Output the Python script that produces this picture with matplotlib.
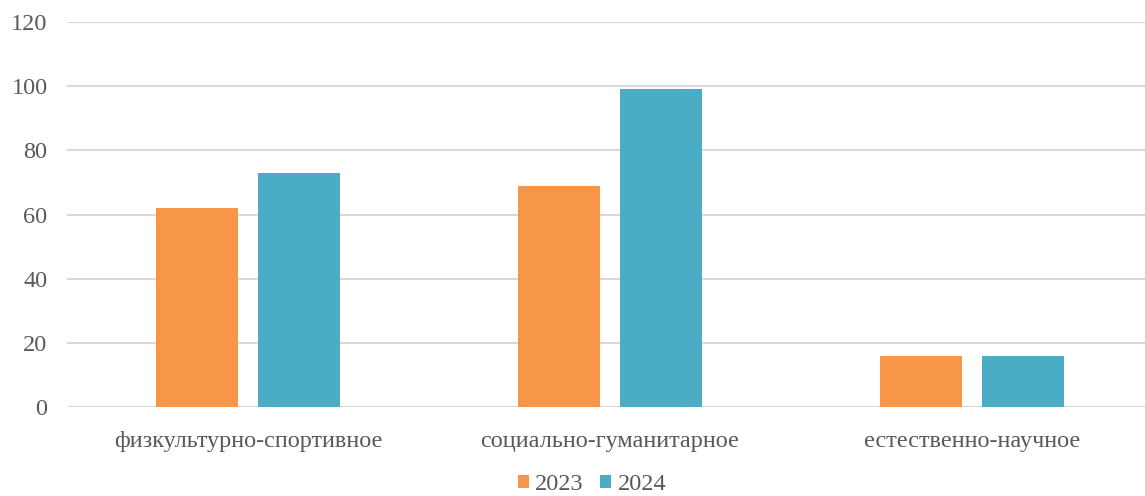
import matplotlib
matplotlib.use("Agg")
import matplotlib.pyplot as plt
import numpy as np

# data
categories = ["физкультурно-спортивное", "социально-гуманитарное", "естественно-научное"]
years = ["2023", "2024"]
vals_2023 = [62, 69, 16]
vals_2024 = [73, 99, 16]
colors = ["#F79646", "#4BACC6"]

plt.rcParams['font.family'] = ['Liberation Serif', 'DejaVu Serif']

fig = plt.figure(figsize=(11.45, 4.96), dpi=100)
ax = fig.add_axes([0.0585, 0.1794, 0.9485, 0.7762])

x = np.arange(len(categories))
w = 0.2265
off = 0.142
ax.bar(x - off, vals_2023, w, color=colors[0], label=years[0], zorder=3)
ax.bar(x + off, vals_2024, w, color=colors[1], label=years[1], zorder=3)

ax.set_xlim(-0.5, 2.5)
ax.set_ylim(0, 120)
ax.set_yticks(range(0, 121, 20))
ax.set_xticks(x)
ax.set_xticklabels(categories)
ax.grid(axis='y', color='#D9D9D9', linewidth=1.5, zorder=0)
for s in ax.spines.values():
    s.set_visible(False)
ax.tick_params(axis='both', length=0, labelsize=17.5, colors='#595959')
ax.tick_params(axis='x', pad=17)
ax.tick_params(axis='y', pad=14)
ax.axhline(0, color='#D9D9D9', linewidth=1.5, zorder=2)

fig.legend(loc='lower center', bbox_to_anchor=(0.517, -0.042), ncol=2, frameon=False,
           fontsize=17.5, handlelength=0.45, handleheight=0.45, handletextpad=0.25,
           columnspacing=0.7, labelcolor='#595959')

fig.savefig("out.png", dpi=100)
